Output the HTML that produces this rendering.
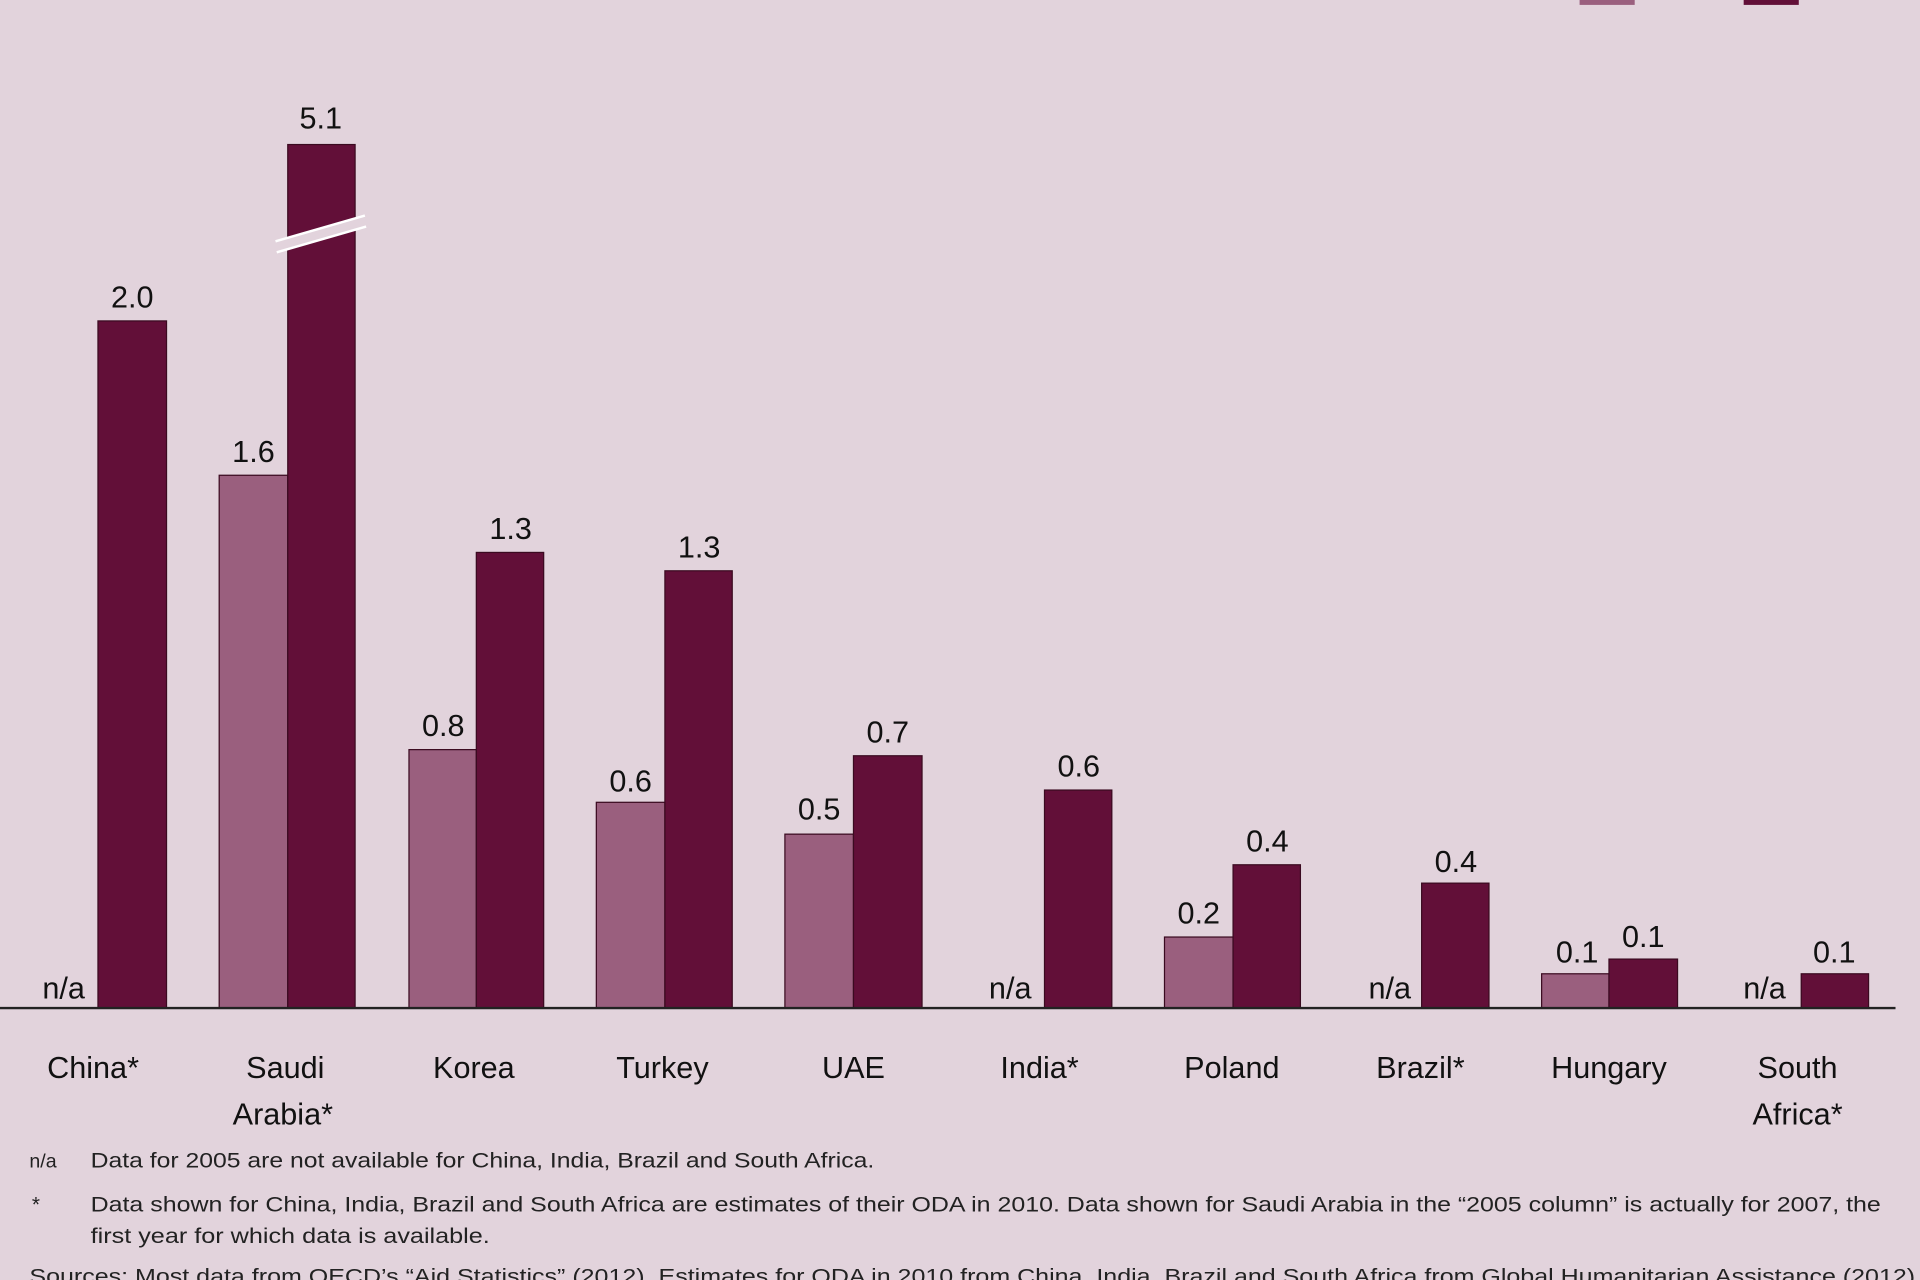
<!DOCTYPE html>
<html><head><style>html,body{margin:0;padding:0;background:#e2d3dc;overflow:hidden}svg{display:block}</style></head>
<body>
<svg width="1920" height="1280" viewBox="0 0 1568 1045" preserveAspectRatio="none" xmlns="http://www.w3.org/2000/svg" font-family="Liberation Sans, sans-serif">
<rect width="1568" height="1045" fill="#e2d3dc"/>
<rect x="1290" y="-4" width="45" height="8" fill="#9a5f7e"/>
<rect x="1424" y="-4" width="45" height="8" fill="#620f38"/>
<g stroke="#3a0a20" stroke-width="1">
<rect x="80" y="262" width="56" height="561" fill="#620f38"/>
<rect x="179" y="388" width="56" height="435" fill="#9a5f7e"/>
<rect x="235" y="118" width="55" height="705" fill="#620f38"/>
<rect x="334" y="612" width="55" height="211" fill="#9a5f7e"/>
<rect x="389" y="451" width="55" height="372" fill="#620f38"/>
<rect x="487" y="655" width="56" height="168" fill="#9a5f7e"/>
<rect x="543" y="466" width="55" height="357" fill="#620f38"/>
<rect x="641" y="681" width="56" height="142" fill="#9a5f7e"/>
<rect x="697" y="617" width="56" height="206" fill="#620f38"/>
<rect x="853" y="645" width="55" height="178" fill="#620f38"/>
<rect x="951" y="765" width="56" height="58" fill="#9a5f7e"/>
<rect x="1007" y="706" width="55" height="117" fill="#620f38"/>
<rect x="1161" y="721" width="55" height="102" fill="#620f38"/>
<rect x="1259" y="795" width="55" height="28" fill="#9a5f7e"/>
<rect x="1314" y="783" width="56" height="40" fill="#620f38"/>
<rect x="1471" y="795" width="55" height="28" fill="#620f38"/>
</g>
<polygon points="225,197 298,176 299,185 226,206" fill="#e2d3dc"/>
<line x1="225" y1="197" x2="298" y2="176" stroke="#fff" stroke-width="2"/>
<line x1="226" y1="206" x2="299" y2="185" stroke="#fff" stroke-width="2"/>
<line x1="0" y1="823" x2="1548" y2="823" stroke="#222" stroke-width="2"/>
<g font-size="25" fill="#111" text-anchor="middle">
<text x="52" y="815">n/a</text><text x="108" y="251">2.0</text>
<text x="207" y="377">1.6</text><text x="262" y="105">5.1</text>
<text x="362" y="601">0.8</text><text x="417" y="440">1.3</text>
<text x="515" y="646">0.6</text><text x="571" y="455">1.3</text>
<text x="669" y="669">0.5</text><text x="725" y="606">0.7</text>
<text x="825" y="815">n/a</text><text x="881" y="634">0.6</text>
<text x="979" y="754">0.2</text><text x="1035" y="695">0.4</text>
<text x="1135" y="815">n/a</text><text x="1189" y="712">0.4</text>
<text x="1288" y="786">0.1</text><text x="1342" y="773">0.1</text>
<text x="1441" y="815">n/a</text><text x="1498" y="786">0.1</text>
<text x="76" y="880">China*</text>
<text x="233" y="880">Saudi</text><text x="231" y="918">Arabia*</text>
<text x="387" y="880">Korea</text>
<text x="541" y="880">Turkey</text>
<text x="697" y="880">UAE</text>
<text x="849" y="880">India*</text>
<text x="1006" y="880">Poland</text>
<text x="1160" y="880">Brazil*</text>
<text x="1314" y="880">Hungary</text>
<text x="1468" y="880">South</text><text x="1468" y="918">Africa*</text>
</g>
<g font-size="17" fill="#222" textLength="1">
<text x="24" y="953" font-size="16">n/a</text>
<text x="74" y="953" textLength="640" lengthAdjust="spacingAndGlyphs">Data for 2005 are not available for China, India, Brazil and South Africa.</text>
<text x="26" y="989">*</text>
<text x="74" y="989" textLength="1462" lengthAdjust="spacingAndGlyphs">Data shown for China, India, Brazil  and South Africa are estimates of their ODA in 2010. Data shown for Saudi Arabia in the “2005 column” is actually for 2007, the</text>
<text x="74" y="1015" textLength="326" lengthAdjust="spacingAndGlyphs">first year for which data is available.</text>
<text x="24" y="1048" textLength="1540" lengthAdjust="spacingAndGlyphs">Sources:    Most data from OECD’s “Aid Statistics” (2012). Estimates for ODA in 2010 from China, India, Brazil and South Africa from Global Humanitarian Assistance (2012)</text>
</g>
</svg>
</body></html>
